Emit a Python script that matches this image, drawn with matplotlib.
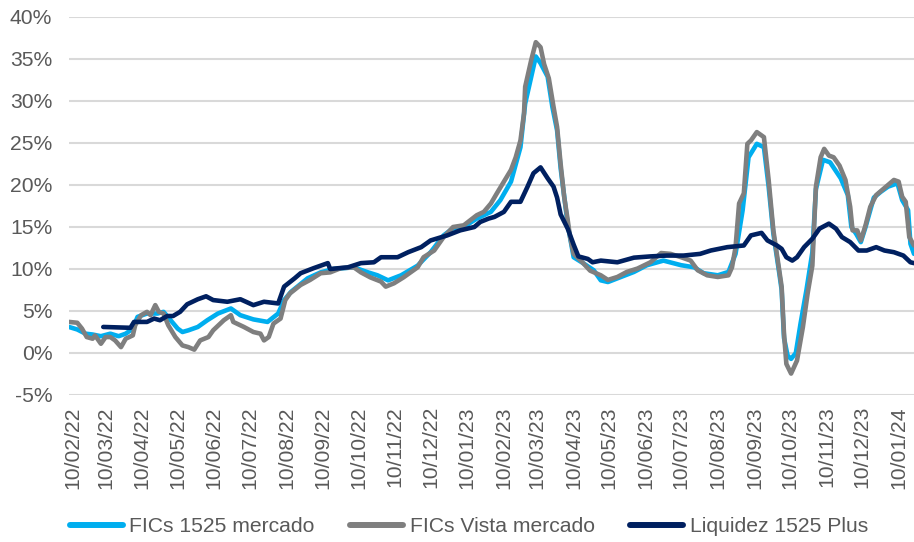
import matplotlib
matplotlib.use("Agg")
import matplotlib.pyplot as plt
import matplotlib.dates as mdates
import pandas as pd

# ---------------- data ----------------
fics1525_dates = ["2022-02-07","2022-02-14","2022-02-21","2022-02-27","2022-03-06","2022-03-14","2022-03-21","2022-03-27",
    "2022-04-02","2022-04-06","2022-04-14","2022-04-23","2022-04-28","2022-05-04","2022-05-10","2022-05-14","2022-05-19",
    "2022-05-27","2022-06-04","2022-06-13","2022-06-24","2022-07-02","2022-07-13","2022-07-25","2022-08-03","2022-08-08",
    "2022-08-14","2022-08-28","2022-09-08","2022-09-19","2022-10-06","2022-10-18","2022-10-26","2022-11-04","2022-11-15",
    "2022-11-29","2022-12-10","2022-12-21","2022-12-29","2023-01-07","2023-01-18","2023-01-30","2023-02-07","2023-02-16",
    "2023-02-24","2023-02-28","2023-03-09","2023-03-13","2023-03-19","2023-03-23","2023-03-27","2023-03-30","2023-04-05",
    "2023-04-10","2023-04-18","2023-04-27","2023-05-03","2023-05-09","2023-05-20","2023-05-31","2023-06-11","2023-06-25",
    "2023-07-10","2023-07-21","2023-07-29","2023-08-10","2023-08-19","2023-08-25","2023-08-31","2023-09-05","2023-09-12",
    "2023-09-18","2023-09-22","2023-09-26","2023-10-01","2023-10-03","2023-10-05","2023-10-08","2023-10-11","2023-10-15",
    "2023-10-19","2023-10-24","2023-10-29","2023-11-01","2023-11-07","2023-11-13","2023-11-22","2023-11-28","2023-12-01",
    "2023-12-05","2023-12-09","2023-12-13","2023-12-20","2023-12-26","2024-01-01","2024-01-09","2024-01-13","2024-01-18",
    "2024-01-20","2024-01-23"]
fics1525_values = [3.1,2.8,2.3,2.2,2.0,2.3,2.0,2.3,
    2.9,4.3,4.7,4.7,4.9,3.9,2.9,2.5,2.7,
    3.1,3.9,4.7,5.3,4.5,4.0,3.7,4.7,6.3,
    7.3,8.9,9.6,10.0,10.2,9.6,9.25,8.65,9.25,
    10.4,12.0,14.0,14.85,15.0,16.0,16.8,18.2,20.4,
    24.5,29.7,35.3,34.5,32.9,29.3,26.5,22.0,15.3,
    11.4,10.7,9.85,8.65,8.45,9.05,9.65,10.45,11.0,
    10.45,10.2,9.5,9.25,9.65,11.8,17.0,23.3,24.9,
    24.5,19.8,14.2,9.5,7.5,1.8,-0.3,-0.7,0.0,
    3.5,7.5,12.0,19.5,23.0,22.7,20.8,18.8,15.0,
    14.2,13.2,15.0,18.5,19.2,19.8,20.2,18.2,17.0,
    13.0,11.8]

vista_dates = ["2022-02-07","2022-02-14","2022-02-18","2022-02-22","2022-02-27","2022-03-01","2022-03-06","2022-03-10",
    "2022-03-14","2022-03-18","2022-03-23","2022-03-27","2022-04-02","2022-04-04","2022-04-09","2022-04-14","2022-04-17",
    "2022-04-21","2022-04-24","2022-04-28","2022-05-02","2022-05-08","2022-05-14","2022-05-19","2022-05-24","2022-05-29",
    "2022-06-05","2022-06-09","2022-06-18","2022-06-24","2022-06-26","2022-07-05","2022-07-13","2022-07-19","2022-07-22",
    "2022-07-26","2022-07-30","2022-08-05","2022-08-09","2022-08-13","2022-08-22","2022-08-30","2022-09-08","2022-09-16",
    "2022-09-25","2022-10-06","2022-10-12","2022-10-20","2022-10-29","2022-11-02","2022-11-09","2022-11-17","2022-11-29",
    "2022-12-04","2022-12-13","2022-12-21","2022-12-29","2023-01-07","2023-01-18","2023-01-24","2023-01-30","2023-02-04",
    "2023-02-10","2023-02-16","2023-02-20","2023-02-24","2023-02-27","2023-02-28","2023-03-05","2023-03-09","2023-03-13",
    "2023-03-16","2023-03-20","2023-03-24","2023-03-27","2023-03-30","2023-04-02","2023-04-05","2023-04-07","2023-04-10",
    "2023-04-16","2023-04-24","2023-05-03","2023-05-09","2023-05-17","2023-05-25","2023-06-03","2023-06-14","2023-06-23",
    "2023-07-01","2023-07-10","2023-07-18","2023-07-24","2023-08-01","2023-08-10","2023-08-19","2023-08-22","2023-08-25",
    "2023-08-28","2023-09-01","2023-09-04","2023-09-07","2023-09-12","2023-09-18","2023-09-22","2023-09-26","2023-10-01",
    "2023-10-03","2023-10-05","2023-10-07","2023-10-11","2023-10-16","2023-10-21","2023-10-25","2023-10-29","2023-11-01",
    "2023-11-05","2023-11-08","2023-11-12","2023-11-16","2023-11-21","2023-11-26","2023-11-30","2023-12-02","2023-12-06",
    "2023-12-09","2023-12-13","2023-12-17","2023-12-22","2023-12-27","2024-01-01","2024-01-06","2024-01-10","2024-01-13",
    "2024-01-16","2024-01-19","2024-01-23"]
vista_values = [3.7,3.6,2.9,1.9,1.7,2.1,1.1,1.9,
    1.9,1.5,0.7,1.7,2.1,3.3,4.5,4.9,4.5,
    5.7,4.9,4.7,3.3,1.9,0.9,0.7,0.4,1.5,
    1.9,2.7,3.9,4.5,3.7,3.1,2.5,2.3,1.5,
    1.9,3.5,4.1,6.3,7.1,8.1,8.7,9.5,9.6,
    10.1,10.2,9.6,9.0,8.5,7.9,8.3,9.0,10.2,
    11.4,12.2,13.8,15.0,15.2,16.4,16.8,17.8,19.0,
    20.4,21.8,23.3,25.3,28.5,31.7,34.8,37.0,36.4,
    34.4,32.7,29.3,26.9,22.5,18.6,15.8,13.8,11.8,
    11.0,9.8,9.25,8.7,9.05,9.65,10.05,10.8,11.9,
    11.8,11.4,11.0,9.85,9.25,9.05,9.25,10.2,12.6,
    17.8,19.0,24.9,25.3,26.3,25.7,20.6,14.6,9.85,
    7.9,2.3,-1.3,-2.45,-0.9,3.1,7.1,10.4,19.8,
    23.3,24.3,23.5,23.3,22.3,20.6,17.4,14.6,14.6,
    13.4,15.2,17.4,18.8,19.4,20.0,20.6,20.4,18.6,
    18.0,13.8,12.8]

liquidez_dates = ["2022-03-08","2022-03-31","2022-04-03","2022-04-14","2022-04-20","2022-04-25","2022-05-01","2022-05-06",
    "2022-05-12","2022-05-18","2022-05-27","2022-06-03","2022-06-09","2022-06-21","2022-07-02","2022-07-13","2022-07-22",
    "2022-08-03","2022-08-08","2022-08-17","2022-08-22","2022-09-02","2022-09-14","2022-09-16","2022-10-01","2022-10-12",
    "2022-10-23","2022-10-29","2022-11-12","2022-11-21","2022-12-02","2022-12-10","2022-12-24","2023-01-04","2023-01-16",
    "2023-01-21","2023-01-28","2023-02-02","2023-02-10","2023-02-16","2023-02-24","2023-03-02","2023-03-07","2023-03-13",
    "2023-03-19","2023-03-24","2023-03-27","2023-03-30","2023-04-05","2023-04-10","2023-04-14","2023-04-22","2023-04-26",
    "2023-05-03","2023-05-17","2023-05-31","2023-06-14","2023-06-28","2023-07-12","2023-07-26","2023-08-04","2023-08-18",
    "2023-09-01","2023-09-07","2023-09-16","2023-09-21","2023-09-29","2023-10-03","2023-10-07","2023-10-12","2023-10-16",
    "2023-10-22","2023-10-29","2023-11-04","2023-11-12","2023-11-18","2023-11-23","2023-11-30","2023-12-07","2023-12-14",
    "2023-12-22","2023-12-29","2024-01-06","2024-01-14","2024-01-20","2024-01-23"]
liquidez_values = [3.1,3.0,3.7,3.7,4.1,3.9,4.4,4.4,
    4.9,5.8,6.4,6.75,6.3,6.1,6.4,5.7,6.1,
    5.9,7.9,8.9,9.5,10.1,10.7,10.0,10.2,10.7,
    10.8,11.4,11.4,12.0,12.6,13.4,14.0,14.6,15.0,
    15.6,16.0,16.2,16.8,18.0,18.0,19.8,21.4,22.1,
    20.8,19.8,18.5,16.5,14.8,12.9,11.5,11.2,10.8,
    11.0,10.8,11.35,11.5,11.6,11.6,11.8,12.2,12.6,
    12.8,14.0,14.3,13.4,12.8,12.4,11.4,11.0,11.4,
    12.6,13.6,14.8,15.4,14.8,13.8,13.2,12.2,12.2,
    12.6,12.2,12.0,11.6,10.8,10.7]

series_names = ["FICs 1525 mercado", "FICs Vista mercado", "Liquidez 1525 Plus"]
series_colors = ["#00AEEF", "#7F7F7F", "#002060"]
y_ticks = [-5, 0, 5, 10, 15, 20, 25, 30, 35, 40]
x_tick_dates = pd.date_range("2022-02-01", "2024-01-01", freq="MS") + pd.Timedelta(days=9)

# ---------------- plot ----------------
plt.rcParams["font.family"] = ["Liberation Sans", "DejaVu Sans"]
fig = plt.figure(figsize=(9.14, 5.42), dpi=100)
ax = fig.add_axes([69/914, 1-395/542, (914-69)/914, (395-17)/542])

all_data = [(fics1525_dates, fics1525_values), (vista_dates, vista_values), (liquidez_dates, liquidez_values)]
for (d, v), name, col in zip(all_data, series_names, series_colors):
    ax.plot(pd.to_datetime(d), v, color=col, lw=3.3, label=name, solid_joinstyle="round", solid_capstyle="round")

ax.set_ylim(-5, 40)
ax.set_xlim(pd.Timestamp("2022-02-07"), pd.Timestamp("2024-01-23"))
ax.set_yticks(y_ticks)
ax.set_yticklabels([f"{t}%" for t in y_ticks])
ax.set_xticks(x_tick_dates)
ax.xaxis.set_major_formatter(mdates.DateFormatter("%d/%m/%y"))
ax.grid(axis="y", color="#D9D9D9", lw=1.5)
ax.set_axisbelow(True)
for s in ax.spines.values():
    s.set_visible(False)
ax.tick_params(axis="both", length=0, colors="#595959", labelsize=15.2)
ax.tick_params(axis="y", pad=12)
ax.tick_params(axis="x", pad=8)
for lab in ax.get_xticklabels():
    lab.set_rotation(90)

leg = fig.legend(loc="center", bbox_to_anchor=(0.513, 0.028), ncol=3, frameon=False,
                 fontsize=15.2, handlelength=2.5, handletextpad=0.3, columnspacing=1.7,
                 labelcolor="#595959")
for h in leg.get_lines():
    h.set_linewidth(4.3)

fig.savefig("out.png", dpi=100)
